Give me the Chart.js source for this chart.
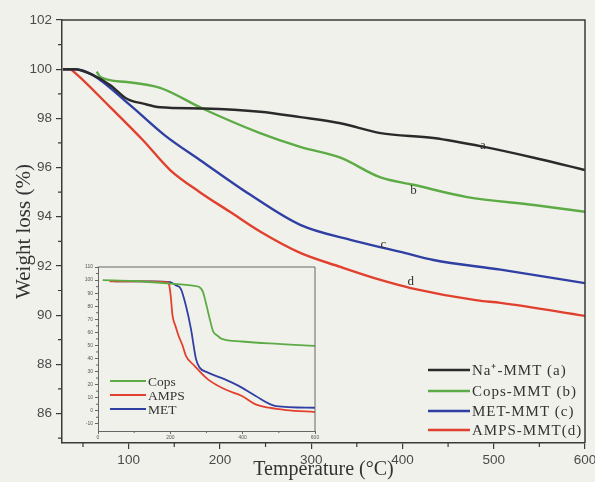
<!DOCTYPE html>
<html><head><meta charset="utf-8">
<script src="https://cdn.jsdelivr.net/npm/chart.js@4.4.1/dist/chart.umd.min.js"></script>
<style>
html,body{margin:0;padding:0;background:#f1f1ec;}
#wrap{position:relative;width:595px;height:482px;overflow:hidden;}
#main{position:absolute;left:0;top:0;}
#inset{position:absolute;left:70px;top:258px;}
</style></head><body>
<div id="wrap"><canvas id="main" width="595" height="482"></canvas><canvas id="inset" width="250" height="186"></canvas></div>
<script>
// ---------- main chart data ----------
const tempNa   = [28, 41, 61, 80, 98, 116, 134.5, 182, 244, 288, 332, 376, 434, 488, 544, 600];
const weightNa = [100, 100, 99.76, 99.35, 98.8, 98.6, 98.45, 98.4, 98.27, 98.05, 97.8, 97.4, 97.2, 96.85, 96.4, 95.9];
const tempCops   = [65, 69, 98, 134.5, 182, 244, 288, 332, 376, 412, 471, 544, 600];
const weightCops = [99.9, 99.68, 99.48, 99.24, 98.38, 97.4, 96.84, 96.4, 95.6, 95.3, 94.8, 94.48, 94.2];
const tempMet   = [28, 41, 61, 101.6, 140, 178.4, 233, 288, 343, 398, 434, 507.5, 600];
const weightMet = [100, 100, 99.76, 98.54, 97.3, 96.3, 94.9, 93.67, 93.06, 92.57, 92.24, 91.85, 91.3];
const tempAmps   = [28, 35.8, 41.3, 79.7, 116, 145.5, 178, 211, 244, 288, 332, 376, 409, 482, 507.5, 600];
const weightAmps = [100, 100, 99.85, 98.46, 97.1, 95.9, 95.0, 94.2, 93.4, 92.53, 91.96, 91.43, 91.1, 90.6, 90.5, 89.97];
const seriesNames = ['Na\u207A-MMT (a)', 'Cops-MMT (b)', 'MET-MMT (c)', 'AMPS-MMT(d)'];
const curveTags = ['a', 'b', 'c', 'd'];
const tagX = [488, 412, 379, 409];
const tagY = [96.88, 95.05, 92.85, 91.35];
const xTicks = [100, 200, 300, 400, 500, 600];
const xMinor = [50, 150, 250, 350, 450, 550];
const yTicks = [86, 88, 90, 92, 94, 96, 98, 100, 102];
const yMinor = [85, 87, 89, 91, 93, 95, 97, 99, 101];

// ---------- inset data ----------
const insTempCops   = [13, 100, 191, 267, 281, 290, 297, 304, 311, 318, 330, 342, 398, 473, 600];
const insWeightCops = [100, 99.3, 97.5, 95.5, 94.5, 91, 84, 76, 68, 61, 57.5, 55, 53, 51.5, 49.7];
const insTempAmps   = [32, 120, 192, 197, 201, 206, 214, 222, 234, 243, 267, 304, 351, 398, 436, 473, 520, 600];
const insWeightAmps = [99, 99, 98.5, 96, 88, 73, 65, 58, 49.7, 42, 34.4, 24, 16.4, 11.3, 4.9, 2.3, 0.5, -1];
const insTempMet   = [46, 150, 200, 215, 229, 243, 257, 271, 281, 304, 351, 389, 436, 492, 600];
const insWeightMet = [99, 99, 98.5, 96, 93.3, 80.5, 62.6, 39.5, 33, 29.2, 24, 19, 11.3, 3.6, 2.3];
const insNames = ['Cops', 'AMPS', 'MET'];
const insXTicks = [0, 200, 400, 600];
const insXMinor = [100, 300, 500];
const insYTicks = [-10, 0, 10, 20, 30, 40, 50, 60, 70, 80, 90, 100, 110];
const insYMinor = [-5, 5, 15, 25, 35, 45, 55, 65, 75, 85, 95, 105];

const GREEN = '#5cab45', RED = '#e2402e', BLUE = '#2f3fa3', BLACK = '#2a2a2a';
const AXIS = '#3a3a3a';
const pts = (xs, ys) => xs.map((v, i) => ({x: v, y: ys[i]}));

function ds(label, xs, ys, color, w) {
  return {label, data: pts(xs, ys), borderColor: color, backgroundColor: color, borderWidth: w,
          pointRadius: 0, cubicInterpolationMode: 'monotone', fill: false};
}

const mainDecor = {
  id: 'mainDecor',
  afterDraw(chart) {
    const {ctx, chartArea: {left, right, top, bottom}, scales: {x, y}} = chart;
    ctx.save();
    ctx.strokeStyle = AXIS; ctx.lineWidth = 1.5;
    ctx.beginPath(); ctx.moveTo(left, top); ctx.lineTo(right, top); ctx.lineTo(right, bottom); ctx.stroke();
    ctx.lineWidth = 1.2; ctx.beginPath();
    yMinor.forEach(v => { const p = y.getPixelForValue(v); ctx.moveTo(left - 4, p); ctx.lineTo(left, p); });
    xMinor.forEach(v => { const p = x.getPixelForValue(v); ctx.moveTo(p, bottom); ctx.lineTo(p, bottom + 4); });
    ctx.stroke();
    ctx.fillStyle = '#333'; ctx.font = '13px "Liberation Serif"'; ctx.textAlign = 'center'; ctx.textBaseline = 'middle';
    curveTags.forEach((t, i) => ctx.fillText(t, x.getPixelForValue(tagX[i]), y.getPixelForValue(tagY[i])));
    // legend
    const rows = [73, 52, 32, 13];
    ctx.textAlign = 'left'; ctx.font = '15px "Liberation Serif"';
    try { ctx.letterSpacing = '1px'; } catch (e) {}
    chart.data.datasets.forEach((d, i) => {
      const yy = bottom - rows[i];
      ctx.strokeStyle = d.borderColor; ctx.lineWidth = 2.5;
      ctx.beginPath(); ctx.moveTo(right - 157, yy); ctx.lineTo(right - 115, yy); ctx.stroke();
      ctx.fillStyle = '#333'; ctx.fillText(d.label, right - 113, yy + 1);
    });
    ctx.restore();
  }
};

new Chart(document.getElementById('main'), {
  type: 'line',
  data: {datasets: [
    ds(seriesNames[0], tempNa, weightNa, BLACK, 2.4),
    ds(seriesNames[1], tempCops, weightCops, GREEN, 2.4),
    ds(seriesNames[2], tempMet, weightMet, BLUE, 2.4),
    ds(seriesNames[3], tempAmps, weightAmps, RED, 2.4)
  ]},
  options: {
    responsive: false, animation: false, devicePixelRatio: 1,
    layout: {padding: {top: 20, right: 10, left: 0, bottom: 0}},
    plugins: {legend: {display: false}, tooltip: {enabled: false}},
    scales: {
      x: {type: 'linear', min: 27, max: 600,
          afterBuildTicks: s => { s.ticks = xTicks.map(v => ({value: v})); },
          afterFit: s => { s.height = 39; s.paddingRight = 0; s.paddingLeft = 0; },
          ticks: {font: {family: 'Liberation Sans', size: 13.5}, color: '#4a4a4a', padding: 3, maxRotation: 0, autoSkip: false},
          grid: {drawOnChartArea: false, drawTicks: true, tickLength: 6, color: AXIS, lineWidth: 1.2},
          border: {color: AXIS, width: 1.5},
          title: {display: true, text: 'Temperature (\u00B0C)', font: {family: 'Liberation Serif', size: 20}, color: '#333', padding: {top: 0, bottom: 0}}},
      y: {type: 'linear', min: 84.8, max: 102,
          afterBuildTicks: s => { s.ticks = yTicks.map(v => ({value: v})); },
          afterFit: s => { s.width = 62; },
          ticks: {font: {family: 'Liberation Sans', size: 13.5}, color: '#4a4a4a', padding: 4},
          grid: {drawOnChartArea: false, drawTicks: true, tickLength: 6, color: AXIS, lineWidth: 1.2},
          border: {color: AXIS, width: 1.5},
          title: {display: true, text: 'Weight loss (%)', font: {family: 'Liberation Serif', size: 21}, color: '#333', padding: {top: 12, bottom: 0}}}
    }
  },
  plugins: [mainDecor]
});

const insetDecor = {
  id: 'insetDecor',
  afterDraw(chart) {
    const {ctx, chartArea: {left, right, top, bottom}, scales: {x, y}} = chart;
    ctx.save();
    ctx.strokeStyle = '#666'; ctx.lineWidth = 1;
    ctx.beginPath(); ctx.moveTo(left, top); ctx.lineTo(right, top); ctx.lineTo(right, bottom); ctx.stroke();
    ctx.beginPath();
    insYMinor.forEach(v => { const p = y.getPixelForValue(v); ctx.moveTo(left - 2, p); ctx.lineTo(left, p); });
    insXMinor.forEach(v => { const p = x.getPixelForValue(v); ctx.moveTo(p, bottom); ctx.lineTo(p, bottom + 2); });
    ctx.stroke();
    const rows = [50, 36, 22];
    ctx.font = '13.5px "Liberation Serif"'; ctx.textAlign = 'left'; ctx.textBaseline = 'middle';
    chart.data.datasets.forEach((d, i) => {
      const yy = bottom - rows[i];
      ctx.strokeStyle = d.borderColor; ctx.lineWidth = 2;
      ctx.beginPath(); ctx.moveTo(left + 12, yy); ctx.lineTo(left + 48, yy); ctx.stroke();
      ctx.fillStyle = '#333'; ctx.fillText(d.label, left + 50, yy + 1);
    });
    ctx.restore();
  }
};

new Chart(document.getElementById('inset'), {
  type: 'line',
  data: {datasets: [
    ds(insNames[0], insTempCops, insWeightCops, GREEN, 1.8),
    ds(insNames[1], insTempAmps, insWeightAmps, RED, 1.8),
    ds(insNames[2], insTempMet, insWeightMet, BLUE, 1.8)
  ]},
  options: {
    responsive: false, animation: false, devicePixelRatio: 1,
    layout: {padding: {top: 9, right: 5, left: 0, bottom: 0}},
    plugins: {legend: {display: false}, tooltip: {enabled: false}},
    scales: {
      x: {type: 'linear', min: 0, max: 600,
          afterBuildTicks: s => { s.ticks = insXTicks.map(v => ({value: v})); },
          afterFit: s => { s.height = 13; s.paddingRight = 0; s.paddingLeft = 0; },
          ticks: {font: {family: 'Liberation Sans', size: 5}, color: '#555', padding: 1, maxRotation: 0, autoSkip: false},
          grid: {drawOnChartArea: false, drawTicks: true, tickLength: 3, color: '#666', lineWidth: 1},
          border: {color: '#666', width: 1}},
      y: {type: 'linear', min: -15.5, max: 110,
          afterBuildTicks: s => { s.ticks = insYTicks.map(v => ({value: v})); },
          afterFit: s => { s.width = 28; },
          ticks: {font: {family: 'Liberation Sans', size: 5}, color: '#555', padding: 2, autoSkip: false},
          grid: {drawOnChartArea: false, drawTicks: true, tickLength: 3, color: '#666', lineWidth: 1},
          border: {color: '#666', width: 1}}
    }
  },
  plugins: [insetDecor]
});
</script>
</body></html>
